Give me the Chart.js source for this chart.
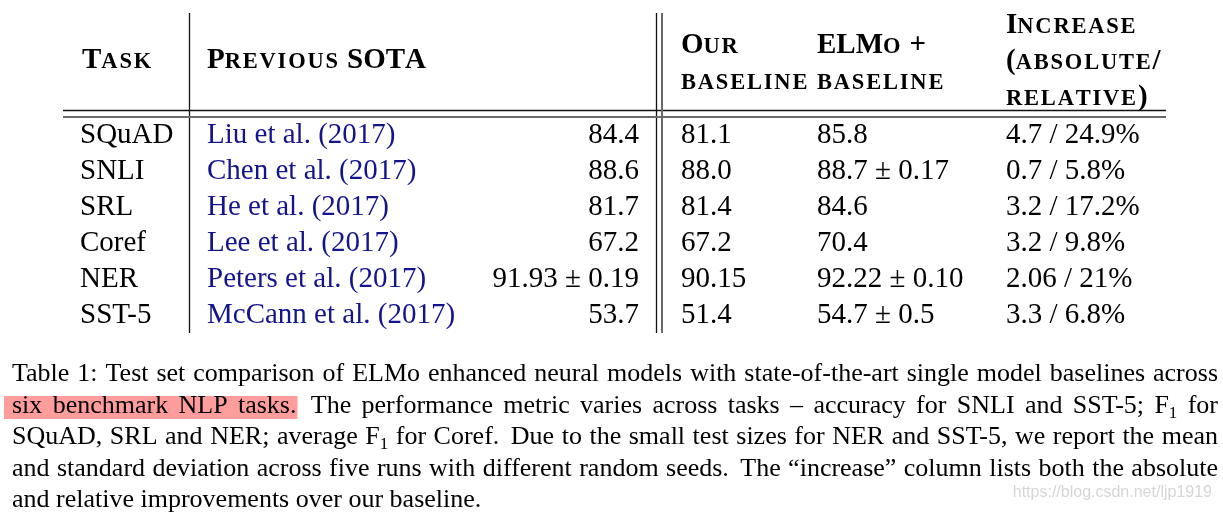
<!DOCTYPE html>
<html>
<head>
<meta charset="utf-8">
<title>Table 1</title>
<script src="https://cdn.jsdelivr.net/npm/chart.js@4.4.0/dist/chart.umd.min.js"></script>
<style>
    html, body { margin: 0; padding: 0; background: #fff; }
    #table1 { display: block; }
</style>
</head>
<body>
<canvas id="table1" width="1223" height="512"></canvas>
<script>
// Table 1 drawn as a scatter chart: every cell is a text mark placed by the y (row) scale

// Data
const tasks = ['SQuAD', 'SNLI', 'SRL', 'Coref', 'NER', 'SST-5'];
const previousSota = ['Liu et al. (2017)', 'Chen et al. (2017)', 'He et al. (2017)', 'Lee et al. (2017)', 'Peters et al. (2017)', 'McCann et al. (2017)'];
const previousScore = ['84.4', '88.6', '81.7', '67.2', '91.93 ± 0.19', '53.7'];
const ourBaseline = ['81.1', '88.0', '81.4', '67.2', '90.15', '51.4'];
const elmoBaseline = ['85.8', '88.7 ± 0.17', '84.6', '70.4', '92.22 ± 0.10', '54.7 ± 0.5'];
const increase = ['4.7 / 24.9%', '0.7 / 5.8%', '3.2 / 17.2%', '3.2 / 9.8%', '2.06 / 21%', '3.3 / 6.8%'];

const headers = [['Task'], ['Previous SOTA'], ['Our', 'baseline'], ['ELMo +', 'baseline'], ['Increase', '(absolute/', 'relative)']];

const captionLines = [
    'Table 1: Test set comparison of ELMo enhanced neural models with state-of-the-art single model baselines across',
    'six benchmark NLP tasks. The performance metric varies across tasks – accuracy for SNLI and SST-5; F_1 for',
    'SQuAD, SRL and NER; average F_1 for Coref. Due to the small test sizes for NER and SST-5, we report the mean',
    'and standard deviation across five runs with different random seeds. The “increase” column lists both the absolute',
    'and relative improvements over our baseline.'
];
const highlightWords = 4; // "six benchmark NLP tasks." on caption line 2
const watermark = 'https://blog.csdn.net/ljp1919';

// Layout
const SERIF = '"Liberation Serif", "Times New Roman", serif';
const bodyFont = '29px ' + SERIF;
const capFont = '26px ' + SERIF;
const subFont = '17px ' + SERIF;
const colX = [80, 207, 639, 681, 817, 1006];
const headX = [82, 207, 681, 817, 1006];
const headBase = [[68], [68], [53, 89], [53, 89], [33, 69, 105]];
const captionBase = [381, 412.5, 444, 475.5, 507];

const columns = [
    { texts: tasks, align: 'left', color: '#000' },
    { texts: previousSota, align: 'left', color: '#14148c' },
    { texts: previousScore, align: 'right', color: '#000' },
    { texts: ourBaseline, align: 'left', color: '#000' },
    { texts: elmoBaseline, align: 'left', color: '#000' },
    { texts: increase, align: 'left', color: '#000' }
];

function drawSmallCaps(ctx, text, x, y) {
    for (const ch of text) {
        const small = ch >= 'a' && ch <= 'z';
        const c = small ? ch.toUpperCase() : ch;
        ctx.font = (small ? 'bold 22.5px ' : 'bold 29px ') + SERIF;
        ctx.fillText(c, x, y);
        x += ctx.measureText(c).width + (small ? 1.8 : 0);
    }
}

function wordWidth(ctx, w) {
    if (w.includes('_')) {
        const [a, b] = w.split('_');
        ctx.font = capFont;
        let width = ctx.measureText(a).width;
        ctx.font = subFont;
        return width + ctx.measureText(b).width;
    }
    ctx.font = capFont;
    return ctx.measureText(w).width;
}

function drawWord(ctx, w, x, y) {
    if (w.includes('_')) {
        const [a, b] = w.split('_');
        ctx.font = capFont;
        ctx.fillText(a, x, y);
        const ax = ctx.measureText(a).width;
        ctx.font = subFont;
        ctx.fillText(b, x + ax, y + 5);
        return;
    }
    ctx.font = capFont;
    ctx.fillText(w, x, y);
}

// word positions for one caption line, justified between x0 and x1
function layoutLine(ctx, line, x0, x1, justify) {
    const words = line.split(' ');
    ctx.font = capFont;
    const space = ctx.measureText(' ').width;
    const widths = words.map(w => wordWidth(ctx, w));
    const gaps = words.slice(0, -1).map(w => space + (/\.$/.test(w) && w !== 'al.' ? 4 : 0));
    let extra = 0;
    if (justify && gaps.length) {
        const natural = widths.reduce((a, b) => a + b, 0) + gaps.reduce((a, b) => a + b, 0);
        extra = (x1 - x0 - natural) / gaps.length;
    }
    const out = [];
    let x = x0;
    words.forEach((w, i) => {
        out.push({ w, x, width: widths[i] });
        x += widths[i] + (i < gaps.length ? gaps[i] + extra : 0);
    });
    return out;
}

const tablePlugin = {
    id: 'tableText',
    beforeDatasetsDraw(chart) {
        const ctx = chart.ctx;
        const yScale = chart.scales.y;
        const ruleTop = 13;
        const ruleBottom = yScale.bottom - 8;
        ctx.save();

        // rules
        ctx.strokeStyle = '#111';
        ctx.lineWidth = 1.3;
        ctx.beginPath();
        ctx.moveTo(63, 110.5); ctx.lineTo(1166, 110.5);
        ctx.moveTo(189.5, ruleTop); ctx.lineTo(189.5, ruleBottom);
        ctx.moveTo(656.5, ruleTop); ctx.lineTo(656.5, ruleBottom);
        ctx.stroke();
        ctx.strokeStyle = '#6a6a6a';
        ctx.lineWidth = 2;
        ctx.beginPath();
        ctx.moveTo(63, 117); ctx.lineTo(1166, 117);
        ctx.moveTo(662, ruleTop); ctx.lineTo(662, ruleBottom);
        ctx.stroke();

        // header in small caps
        ctx.fillStyle = '#000';
        ctx.textAlign = 'left';
        ctx.textBaseline = 'alphabetic';
        headers.forEach((lines, c) => {
            lines.forEach((t, k) => drawSmallCaps(ctx, t, headX[c], headBase[c][k]));
        });

        // caption
        const laid = captionLines.map((line, i) => layoutLine(ctx, line, 12, 1218, i < captionLines.length - 1));
        const hl = laid[1][highlightWords - 1];
        ctx.fillStyle = '#ff9d9d';
        ctx.fillRect(4, captionBase[1] - 16.5, hl.x + hl.width + 1 - 4, 23);
        ctx.fillStyle = '#000';
        laid.forEach((words, i) => words.forEach(p => drawWord(ctx, p.w, p.x, captionBase[i])));

        // watermark
        ctx.font = '16px "Liberation Sans", Arial, sans-serif';
        ctx.fillStyle = '#d6d6d6';
        ctx.textAlign = 'right';
        ctx.fillText(watermark, 1212, 497);
        ctx.restore();
    },
    afterDatasetsDraw(chart) {
        const ctx = chart.ctx;
        ctx.save();
        ctx.font = bodyFont;
        ctx.textBaseline = 'alphabetic';
        chart.data.datasets.forEach((ds, i) => {
            const meta = chart.getDatasetMeta(i);
            ctx.fillStyle = ds.textColor;
            ctx.textAlign = ds.textAlign;
            meta.data.forEach((pt, j) => ctx.fillText(ds.texts[j], pt.x, pt.y));
        });
        ctx.restore();
    }
};

const ctx = document.getElementById('table1').getContext('2d');
new Chart(ctx, {
    type: 'scatter',
    data: {
        datasets: columns.map((col, c) => ({
            data: tasks.map(t => ({ x: colX[c], y: t })),
            texts: col.texts,
            textAlign: col.align,
            textColor: col.color,
            pointRadius: 0,
            pointHoverRadius: 0
        }))
    },
    options: {
        responsive: false,
        animation: false,
        events: [],
        layout: { padding: { top: 125, bottom: 171, left: 0, right: 0 } },
        plugins: { legend: { display: false }, tooltip: { enabled: false } },
        scales: {
            x: { type: 'linear', min: 0, max: 1223, display: false },
            y: { type: 'category', labels: tasks, offset: true, display: false }
        }
    },
    plugins: [tablePlugin]
});
</script>
</body>
</html>
